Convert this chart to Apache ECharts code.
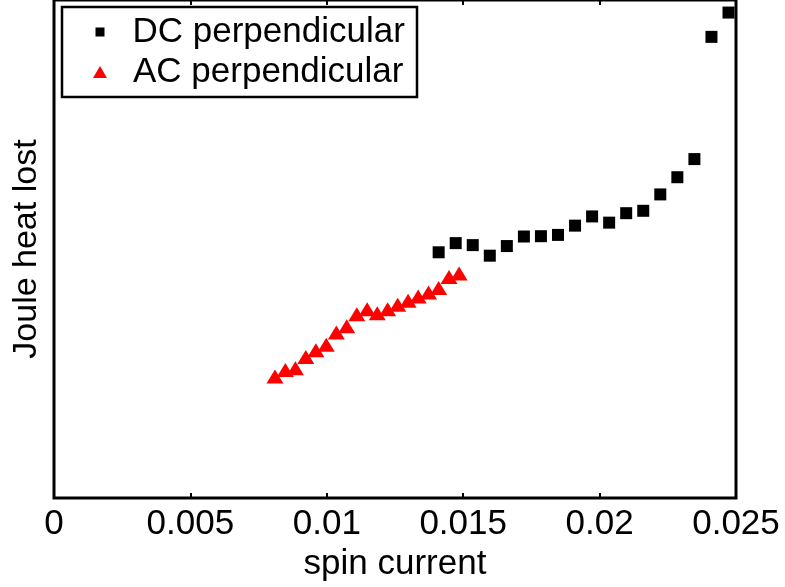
<!DOCTYPE html>
<html>
<head>
<meta charset="utf-8">
<script src="https://cdn.jsdelivr.net/npm/echarts@6/dist/echarts.min.js"></script>
<style>html,body{margin:0;padding:0;background:#fff;}#c{width:785px;height:587px;}</style>
</head>
<body>
<div id="c"></div>
<script>
const xTicks = [0, 0.005, 0.01, 0.015, 0.02, 0.025];
const dcName = 'DC perpendicular';
const acName = 'AC perpendicular';
const dcX = [0.0141, 0.014725, 0.01535, 0.015975, 0.0166, 0.017225, 0.01785, 0.018475, 0.0191, 0.019725, 0.02035, 0.020975, 0.0216, 0.022225, 0.02285, 0.023475, 0.0241, 0.024725];
const dcY = [0.4935, 0.5119, 0.5079, 0.4867, 0.5060, 0.5252, 0.5258, 0.5284, 0.5470, 0.5655, 0.5530, 0.5720, 0.5768, 0.6097, 0.6442, 0.6806, 0.9260, 0.9748];
const acX = [0.0081, 0.00848, 0.00885, 0.00923, 0.0096, 0.00998, 0.01035, 0.01073, 0.0111, 0.01148, 0.01185, 0.01223, 0.0126, 0.01298, 0.01335, 0.01373, 0.0141, 0.01448, 0.01485];
const acY = [0.2440, 0.2573, 0.2605, 0.2831, 0.2970, 0.3081, 0.3327, 0.3452, 0.3690, 0.3790, 0.3710, 0.3790, 0.3883, 0.3962, 0.4048, 0.4127, 0.4220, 0.4438, 0.4510];

const FONT = 'Liberation Sans, Arial, Helvetica, sans-serif';
const chart = echarts.init(document.getElementById('c'), null, {renderer: 'canvas'});
const pair = (xs, ys) => xs.map((x, i) => [x, ys[i]]);

chart.setOption({
  animation: false,
  backgroundColor: '#fff',
  grid: {left: 54, right: 49, top: 0, bottom: 83, show: true, borderColor: '#000', borderWidth: 3, backgroundColor: 'transparent'},
  graphic: [{
    type: 'rect', z: 3, shape: {x: 62, y: 7, width: 355, height: 90},
    style: {fill: '#fff', stroke: '#000', lineWidth: 2.5}
  }],
  legend: [{
    data: [dcName], orient: 'vertical', left: 95.5, top: 12, padding: 0, z: 4,
    itemWidth: 9, itemHeight: 9, icon: 'rect',
    itemStyle: {opacity: 1},
    textStyle: {fontFamily: FONT, fontSize: 35, color: '#000', lineHeight: 40, padding: [0, 0, 0, 23]}
  }, {
    data: [acName], orient: 'vertical', left: 93, top: 52, padding: 0, z: 4,
    itemWidth: 14, itemHeight: 12, icon: 'triangle',
    itemStyle: {opacity: 1},
    textStyle: {fontFamily: FONT, fontSize: 35, color: '#000', lineHeight: 40, padding: [0, 0, 0, 21]}
  }],
  xAxis: [{
    type: 'value', position: 'bottom', min: xTicks[0], max: xTicks[xTicks.length - 1], interval: 0.005,
    axisLine: {show: false},
    axisTick: {show: true, inside: true, length: 5, lineStyle: {color: '#000', width: 2}},
    splitLine: {show: false},
    axisLabel: {fontFamily: FONT, fontSize: 35, color: '#000', margin: 9, formatter: v => String(+v.toFixed(3))},
    name: 'spin current', nameLocation: 'middle', nameGap: 39,
    nameTextStyle: {fontFamily: FONT, fontSize: 35, color: '#000'}
  }, {
    type: 'value', position: 'top', min: xTicks[0], max: xTicks[xTicks.length - 1], interval: 0.005,
    axisLine: {show: false},
    axisTick: {show: true, inside: true, length: 5, lineStyle: {color: '#000', width: 2}},
    splitLine: {show: false}, axisLabel: {show: false}
  }],
  yAxis: {
    type: 'value', min: 0, max: 1,
    axisLine: {show: false}, axisTick: {show: false}, axisLabel: {show: false}, splitLine: {show: false},
    name: 'Joule heat lost', nameLocation: 'middle', nameGap: 10, nameRotate: 90,
    nameTextStyle: {fontFamily: FONT, fontSize: 34, color: '#000'}
  },
  series: [{
    name: dcName, type: 'scatter', symbol: 'rect', symbolSize: 12, z: 2,
    itemStyle: {color: '#000000', opacity: 1}, data: pair(dcX, dcY)
  }, {
    name: acName, type: 'scatter', symbol: 'triangle', symbolSize: [17, 14], z: 2,
    itemStyle: {color: '#ff0000', opacity: 1}, data: pair(acX, acY)
  }]
});
</script>
</body>
</html>
